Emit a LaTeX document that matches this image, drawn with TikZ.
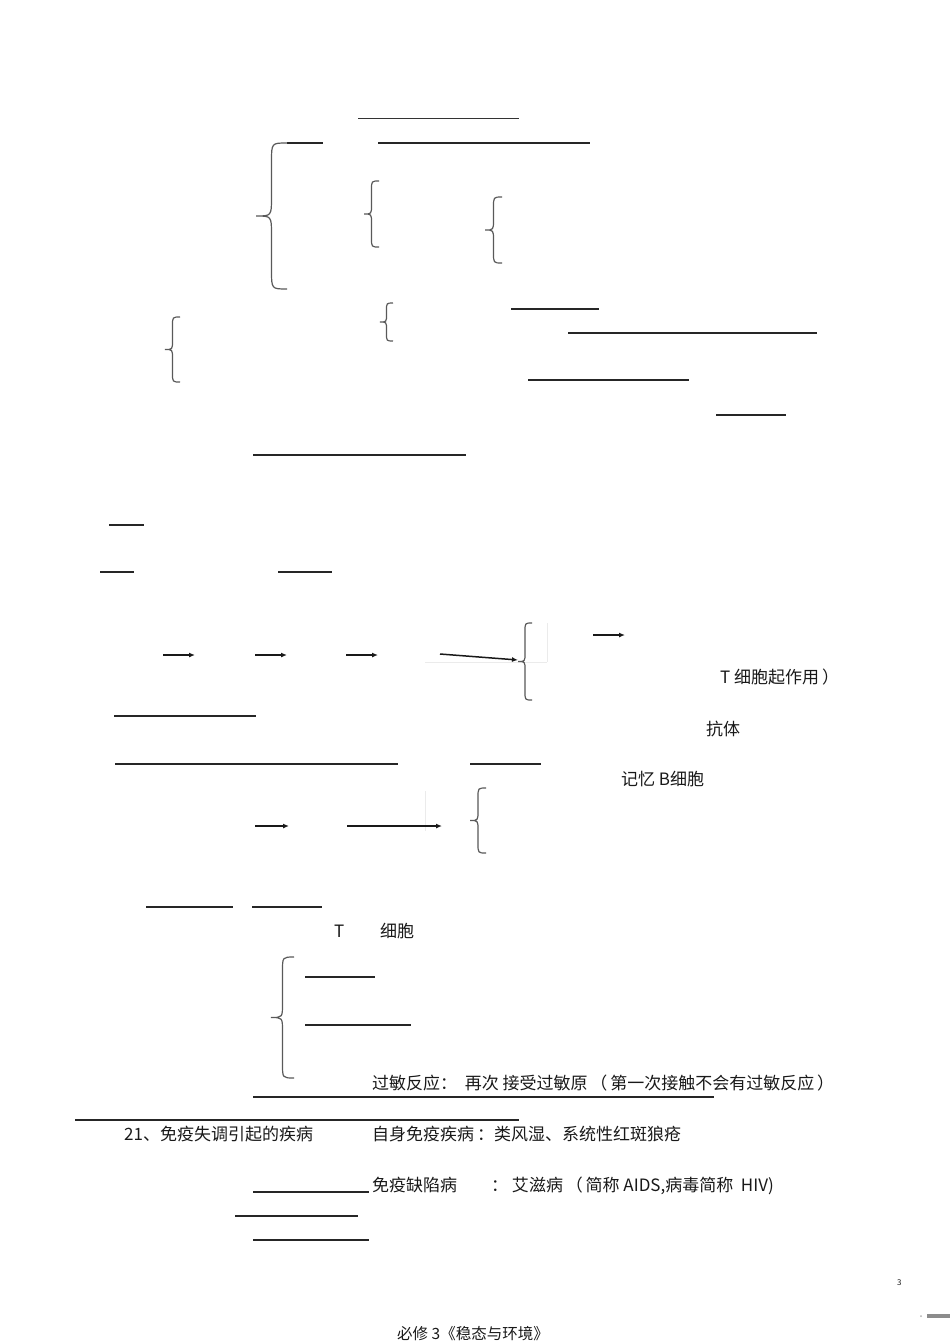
\documentclass[tikz,border=0pt]{standalone}
\usepackage{fontspec}
\setmainfont{Noto Sans CJK SC}
\usetikzlibrary{arrows.meta}
\begin{document}
\begin{tikzpicture}[x=1pt,y=-1pt,
  blank/.style={line width=2.1pt,black!85},
  thinblank/.style={line width=1pt,black!80},
  brc/.style={line width=1.2pt,black!65},
  arr/.style={line width=1.5pt,black!90,-{Latex[length=6pt,width=5pt]}},
  ghost/.style={line width=0.5pt,black!8},
  txt/.style={anchor=west,inner sep=0pt,text=black!90,font=\fontsize{17}{17}\selectfont}]
            \useasboundingbox[fill=white] (0,0) rectangle (950,1344);
            % brace: tip x, top y, bottom y, width
            \def\brc(#1,#2,#3,#4){%
              \draw[brc] ({#1+#4},#2) .. controls ({#1+0.5*#4},#2) .. ({#1+0.5*#4},{#2+0.6*#4})
                -- ({#1+0.5*#4},{(#2+#3)/2-0.6*#4}) .. controls ({#1+0.5*#4},{(#2+#3)/2}) .. (#1,{(#2+#3)/2})
                .. controls ({#1+0.5*#4},{(#2+#3)/2}) .. ({#1+0.5*#4},{(#2+#3)/2+0.6*#4})
                -- ({#1+0.5*#4},{#3-0.6*#4}) .. controls ({#1+0.5*#4},#3) .. ({#1+#4},#3);}
            % top block
            \draw[thinblank] (358,118) -- (519,118);
            \draw[blank] (287,143) -- (323,143);
            \draw[blank] (378,143) -- (590,143);
            \brc(256,143,289,31)
            \brc(364,181,247,15)
            \brc(485,197,263,17)
            \brc(380,303,341,13)
            \brc(165,317,382,15)
            \draw[blank] (511,309) -- (599,309);
            \draw[blank] (568,333) -- (817,333);
            \draw[blank] (528,380) -- (689,380);
            \draw[blank] (716,415) -- (786,415);
            \draw[blank] (253,455) -- (466,455);
            \draw[blank] (109,525) -- (144,525);
            \draw[blank] (100,572) -- (134,572);
            \draw[blank] (278,572) -- (332,572);
            % chain of arrows
            \draw[ghost] (425,662) -- (547,662) (547,623) -- (547,662);
            \foreach \xa in {163,255,346}
              \draw[arr] (\xa,655) -- ({\xa+32},655);
            \draw[arr] (440,654) -- (518,660);
            \brc(518,623,700,14)
            \draw[arr] (593,635) -- (625,635);
            \node[txt] (tcell) at (720,677) {T 细胞起作用\,）};
            \draw[blank] (114,716) -- (256,716);
            \node[txt] (antibody) at (706,729) {抗体};
            \draw[blank] (115,764) -- (398,764);
            \draw[blank] (470,764) -- (541,764);
            \node[txt] (memb) at (621,779) {记忆\ B细胞};
            \draw[ghost] (425,791) -- (425,831);
            \draw[arr] (255,826) -- (289,826);
            \draw[arr] (347,826) -- (442,826);
            \brc(470,788,853,16)
            \draw[blank] (146,907) -- (233,907);
            \draw[blank] (252,907) -- (322,907);
            \node[txt] (tletter) at (334,931) {T};
            \node[txt] (cell) at (380,931) {细胞};
            % diseases
            \brc(271,957,1078,23)
            \draw[blank] (305,977) -- (375,977);
            \draw[blank] (305,1025) -- (411,1025);
            \node[txt] (allergy) at (372,1083) {过敏反应：\ \ 再次 接受过敏原\,（\,第一次接触不会有过敏反应\,）};
            \draw[blank] (253,1097) -- (714,1097);
            \draw[blank] (75,1120) -- (519,1120);
            \node[txt] (q21) at (124,1134) {21、免疫失调引起的疾病};
            \node[txt] (autoimm) at (372,1134) {自身免疫疾病\,：类风湿、系统性红斑狼疮};
            \node[txt] (immdef) at (372,1186) {免疫缺陷病\qquad ：\ 艾滋病\,（\,简称 AIDS,病毒简称\ \ HIV)};
            \draw[blank] (253,1192) -- (369,1192);
            \draw[blank] (235,1216) -- (358,1216);
            \draw[blank] (253,1240) -- (369,1240);
            % footer
            \node[txt,font=\fontsize{8}{8}\selectfont] (pageno) at (897,1283) {3};
            \fill[black!30] (921,1316) circle (1pt);
            \draw[line width=4pt,black!45] (927,1316) -- (950,1316);
            \node[txt,font=\fontsize{15.5}{15.5}\selectfont] (footer) at (397,1334) {必修 3《稳态与环境》};
\end{tikzpicture}
\end{document}
